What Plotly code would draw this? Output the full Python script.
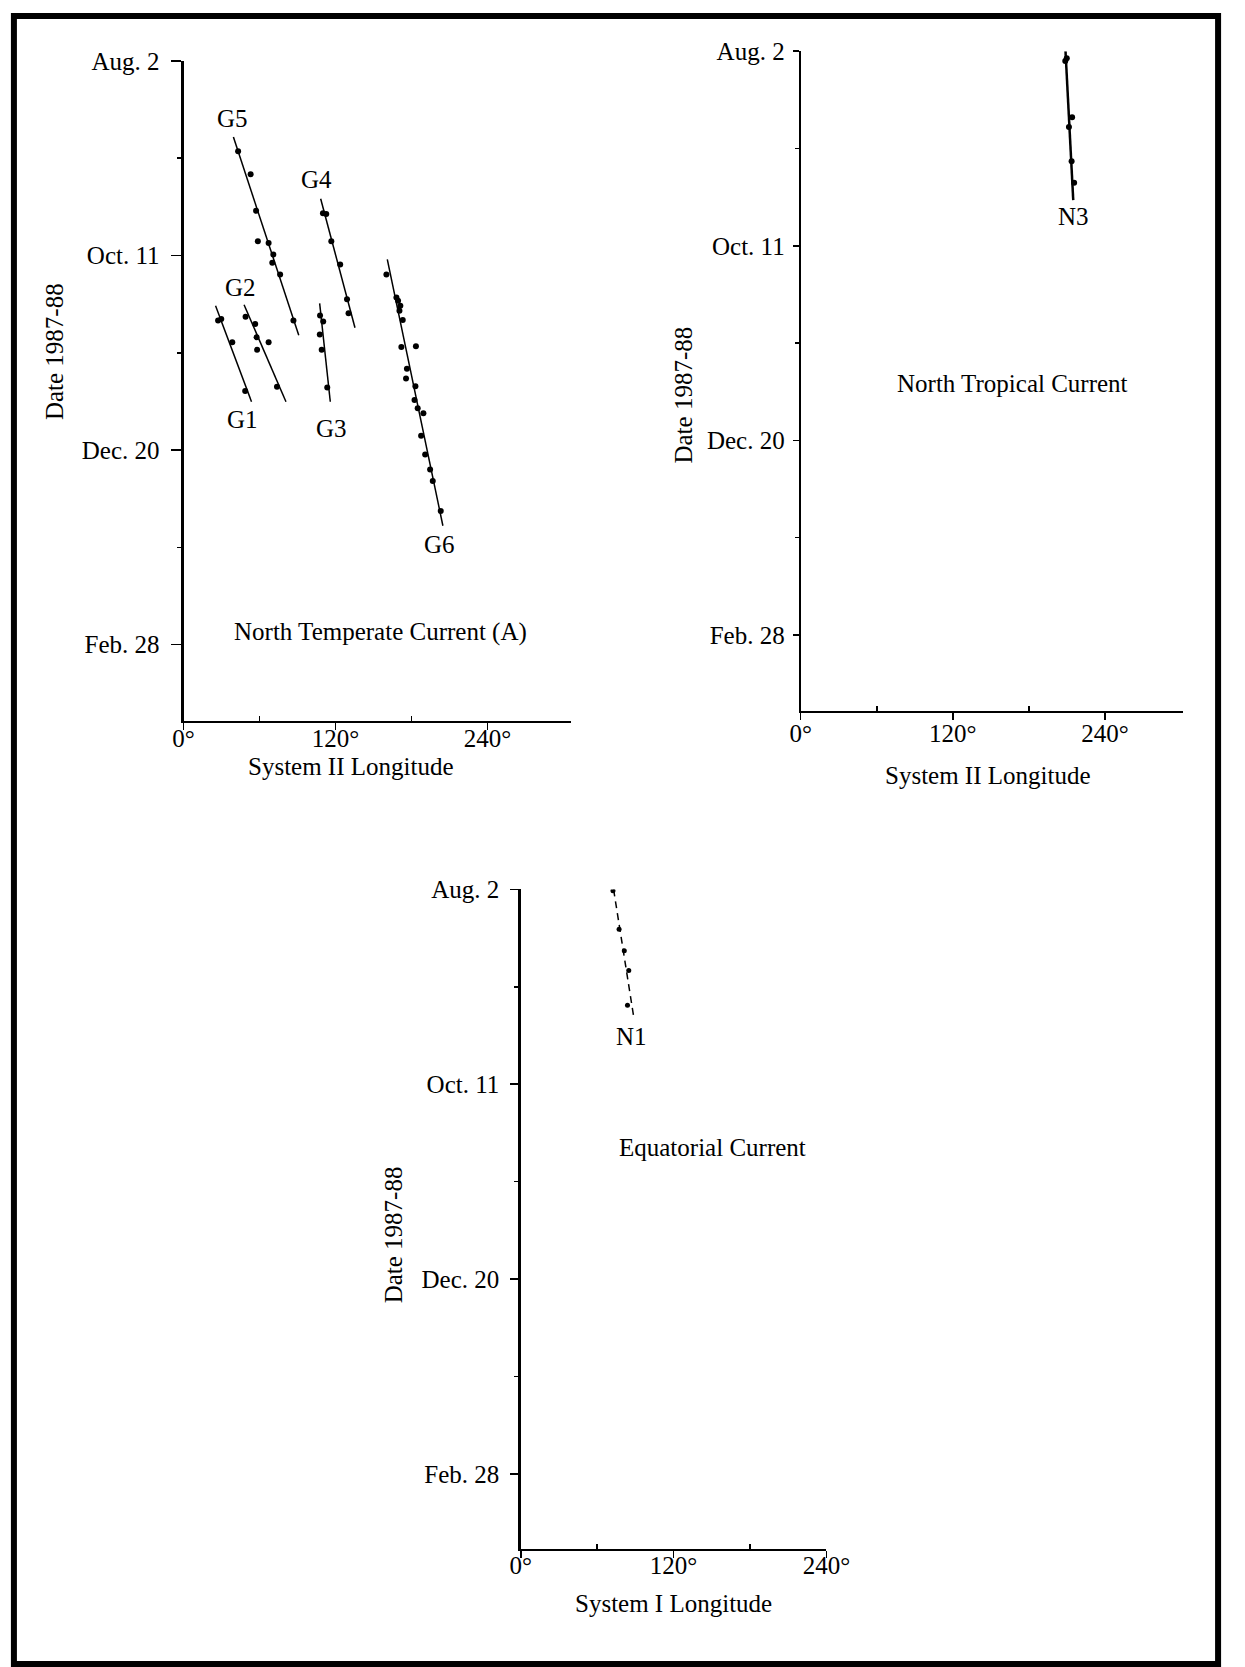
import plotly.graph_objects as go

# Layout positions are given in pixels of a 1245 x 1667 page and converted to
# paper fractions; the figure div is pinned to fill the browser viewport.
W, H = 1245, 1667
FONT = "Liberation Serif, Times New Roman, serif"
FS = 25

# Date axis: days counted from 2 Aug 1987
date_ticks = [0, 70, 140, 210]
date_labels = ["Aug. 2", "Oct. 11", "Dec. 20", "Feb. 28"]
date_minor = [35, 105, 175]
lon_ticks = [0, 120, 240]
lon_labels = ["0°", "120°", "240°"]
lon_minor = [60, 180]

# North Temperate Current (A) -- System II longitude (deg) vs day
g1_lon = [27.3, 29.8, 38.5, 48.7]
g1_day = [93.4, 92.8, 101.2, 118.7]
g1_fit_lon = [25.3, 53.7]
g1_fit_day = [88.1, 122.6]

g2_lon = [49.0, 56.6, 57.7, 67.2, 58.1, 73.8]
g2_day = [92.0, 94.6, 99.4, 101.2, 103.9, 117.2]
g2_fit_lon = [47.8, 80.9]
g2_fit_day = [87.7, 122.6]

g3_lon = [107.8, 110.3, 107.6, 109.1, 113.5]
g3_day = [91.6, 93.7, 98.4, 103.9, 117.5]
g3_fit_lon = [107.5, 115.9]
g3_fit_day = [87.2, 122.6]

g4_lon = [110.1, 112.7, 116.7, 123.7, 129.1, 130.3]
g4_day = [54.8, 55.1, 64.9, 73.2, 85.7, 90.8]
g4_fit_lon = [108.3, 135.4]
g4_fit_day = [49.6, 96.0]

g5_lon = [43.1, 53.0, 57.3, 58.7, 67.2, 70.9, 70.1, 76.3, 86.8]
g5_day = [32.5, 40.8, 53.9, 64.9, 65.5, 69.6, 72.6, 76.8, 93.4]
g5_fit_lon = [39.4, 91.0]
g5_fit_day = [27.4, 98.7]

g6_lon = [160.2, 168.1, 169.4, 171.2, 170.5, 173.1, 172.0, 183.5, 176.4, 175.7,
          183.1, 182.4, 184.9, 189.4, 187.6, 190.8, 194.7, 196.8, 203.1]
g6_day = [76.8, 85.1, 86.3, 88.1, 89.9, 93.2, 102.9, 102.6, 110.7, 114.2,
          117.0, 122.0, 124.9, 126.7, 134.8, 141.6, 147.0, 151.1, 161.9]
g6_fit_lon = [160.9, 204.8]
g6_fit_day = [71.4, 167.2]

# North Tropical Current -- System II longitude
n3_lon = [208.6, 209.8, 214.0, 211.5, 213.6, 215.6]
n3_day = [3.5, 2.5, 23.8, 27.3, 39.6, 47.3]
n3_fit_lon = [208.8, 214.9]
n3_fit_day = [0.0, 53.6]

# Equatorial Current -- System I longitude
n1_lon = [72.4, 77.2, 81.3, 84.8, 83.8]
n1_day = [0.5, 14.3, 22.0, 29.1, 41.6]
n1_fit_lon = [72.9, 88.9]
n1_fit_day = [0.0, 46.4]


def px_x(px):
    return px / W


def px_y(py):
    return 1 - py / H


def xdom(left_px, right_px):
    return [px_x(left_px), px_x(right_px)]


def ydom(top_px, bottom_px):
    return [px_y(bottom_px), px_y(top_px)]


fig = go.Figure()


def add_group(lon, day, fit_lon, fit_day, xa, ya, dash="solid", lw=1.5, msize=6):
    fig.add_trace(go.Scatter(x=fit_lon, y=fit_day, mode="lines", xaxis=xa, yaxis=ya,
                             line=dict(color="black", width=lw, dash=dash),
                             showlegend=False, hoverinfo="skip"))
    fig.add_trace(go.Scatter(x=lon, y=day, mode="markers", xaxis=xa, yaxis=ya,
                             marker=dict(color="black", size=msize, symbol="circle"),
                             showlegend=False))


for lon, day, fl, fd in [(g1_lon, g1_day, g1_fit_lon, g1_fit_day),
                         (g2_lon, g2_day, g2_fit_lon, g2_fit_day),
                         (g3_lon, g3_day, g3_fit_lon, g3_fit_day),
                         (g4_lon, g4_day, g4_fit_lon, g4_fit_day),
                         (g5_lon, g5_day, g5_fit_lon, g5_fit_day),
                         (g6_lon, g6_day, g6_fit_lon, g6_fit_day)]:
    add_group(lon, day, fl, fd, "x", "y")

add_group(n3_lon, n3_day, n3_fit_lon, n3_fit_day, "x2", "y2", lw=2.5)
add_group(n1_lon, n1_day, n1_fit_lon, n1_fit_day, "x3", "y3", dash="7px,5px", lw=1.5, msize=5)

tickfont = dict(family=FONT, size=FS, color="black")


def x_axis(domain, rng, anchor, standoff):
    return dict(domain=domain, range=rng, anchor=anchor, showline=True, linewidth=2,
                linecolor="black", ticks="outside", ticklen=7, tickwidth=1.5,
                tickcolor="black", tickmode="array", tickvals=lon_ticks,
                ticktext=lon_labels, tickfont=tickfont, ticklabelstandoff=standoff,
                showgrid=False, zeroline=False,
                minor=dict(tickmode="array", tickvals=lon_minor, ticks="inside",
                           ticklen=5, tickwidth=1.5, tickcolor="black", showgrid=False),
                fixedrange=True)


def y_axis(domain, rng, anchor, lw, ticklen, standoff):
    return dict(domain=domain, range=rng, anchor=anchor, showline=True, linewidth=lw,
                linecolor="black", ticks="outside", ticklen=ticklen, tickwidth=1.5,
                tickcolor="black", tickmode="array", tickvals=date_ticks,
                ticktext=date_labels, tickfont=tickfont, ticklabelstandoff=standoff,
                showgrid=False, zeroline=False,
                minor=dict(tickmode="array", tickvals=date_minor, ticks="outside",
                           ticklen=4, tickwidth=1.5, tickcolor="black", showgrid=False),
                fixedrange=True)


layout = dict(
    autosize=True,
    margin=dict(l=0, r=0, t=0, b=0, pad=0),
    paper_bgcolor="white", plot_bgcolor="white",
    font=dict(family=FONT, size=FS, color="black"),
    # North Temperate Current (A)
    xaxis=x_axis(xdom(177.5, 576), [0, 305.8], "y", -13),
    yaxis=y_axis(ydom(48.3, 714), [237.6, 0], "x", 3, 10, 6),
    # North Tropical Current
    xaxis2=x_axis(xdom(812.5, 1206), [0, 301.5], "y2", -8),
    yaxis2=y_axis(ydom(38.5, 703.3), [237.3, 0], "x2", 2, 6, 3),
    # Equatorial Current
    xaxis3=x_axis(xdom(524.5, 839), [0, 240], "y3", -14),
    yaxis3=y_axis(ydom(883.3, 1548.3), [237.1, 0], "x3", 2.5, 8, 6),
)
fig.update_layout(**layout)

annotations = []

# Track labels placed in data coordinates
track_labels = [
    ("G5", 38.8, 20.6, "x", "y"),
    ("G4", 105.1, 42.5, "x", "y"),
    ("G2", 44.9, 81.5, "x", "y"),
    ("G1", 46.6, 129.1, "x", "y"),
    ("G3", 117.0, 132.1, "x", "y"),
    ("G6", 202.0, 173.8, "x", "y"),
    ("North Temperate Current (A)", 155.3, 205.3, "x", "y"),
    ("N3", 214.9, 59.5, "x2", "y2"),
    ("North Tropical Current", 167.4, 119.7, "x2", "y2"),
    ("N1", 86.9, 52.9, "x3", "y3"),
    ("Equatorial Current", 150.3, 92.8, "x3", "y3"),
]
for text, lx, ly, xr, yr in track_labels:
    annotations.append(dict(text=text, x=lx, y=ly, xref=xr, yref=yr, showarrow=False,
                            xanchor="center", yanchor="middle",
                            font=dict(family=FONT, size=FS, color="black")))

# Axis titles positioned in page pixels
titles = [
    ("Date 1987-88", 45, 341, -90),
    ("Date 1987-88", 692, 385, -90),
    ("Date 1987-88", 393, 1231, -90),
    ("System II Longitude", 350, 759, 0),
    ("System II Longitude", 1005, 768, 0),
    ("System I Longitude", 682, 1603, 0),
]
for text, px, py, ang in titles:
    annotations.append(dict(text=text, x=px_x(px), y=px_y(py), xref="paper", yref="paper",
                            showarrow=False, xanchor="center", yanchor="middle",
                            textangle=ang,
                            font=dict(family=FONT, size=FS, color="black")))

fig.update_layout(annotations=annotations)

# Page frame
fig.add_shape(type="rect", xref="paper", yref="paper",
              x0=3 / W, x1=1 - 3 / W, y0=3 / H, y1=1 - 3 / H,
              line=dict(color="black", width=6), fillcolor="rgba(0,0,0,0)", layer="above")

# The graph div fills the whole viewport (fixed at the top-left corner).
fig.write_html(
    "out.html",
    config={"displayModeBar": False, "staticPlot": True},
    default_width="100vw;position:fixed;left:0;top:0",
    default_height="100vh",
)
